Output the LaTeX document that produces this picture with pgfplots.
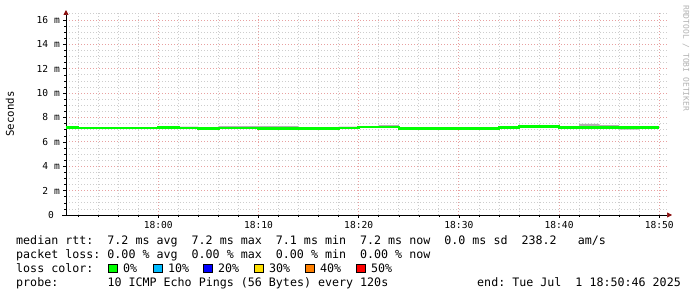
\documentclass[border=0pt]{standalone}
\usepackage{pgfplots}
\pgfplotsset{compat=1.18}
\usepackage{pgfplotstable}
\usepgfplotslibrary{fillbetween}
\usetikzlibrary{arrows.meta}
\usepackage{fontspec}
\setmainfont{DejaVu Sans Mono}
\setmonofont{DejaVu Sans Mono}
\frenchspacing
\definecolor{medgreen}{HTML}{00FF00}
\definecolor{smoke}{HTML}{B0B0B0}
\definecolor{mgrid}{HTML}{E8A0A0}
\definecolor{igrid}{HTML}{CDCDCD}
\definecolor{arrowred}{HTML}{8B1010}
\definecolor{lz}{HTML}{00FF00}
\definecolor{la}{HTML}{00BBFF}
\definecolor{lb}{HTML}{0000FF}
\definecolor{lc}{HTML}{FFE000}
\definecolor{ld}{HTML}{FF7F00}
\definecolor{le}{HTML}{FF0000}

% minutes relative to 18:00, median rtt (ms), smoke low / high (ms)
\pgfplotstableread{
t med lo hi
-10 7.16 7.16 7.16
-8 7.12 7.12 7.12
-6 7.12 7.12 7.12
-4 7.12 7.12 7.12
-2 7.12 7.12 7.12
0 7.16 7.16 7.16
2 7.12 7.12 7.25
4 7.08 7.08 7.08
6 7.12 7.12 7.30
8 7.12 7.12 7.30
10 7.10 7.10 7.30
12 7.10 7.10 7.30
14 7.10 7.10 7.10
16 7.10 7.10 7.10
18 7.14 7.14 7.25
20 7.22 7.22 7.22
22 7.22 7.22 7.38
24 7.10 7.10 7.10
26 7.10 7.10 7.10
28 7.10 7.10 7.10
30 7.10 7.10 7.10
32 7.10 7.10 7.10
34 7.16 7.16 7.16
36 7.24 7.24 7.24
38 7.24 7.24 7.24
40 7.16 7.16 7.16
42 7.16 7.16 7.48
44 7.16 7.16 7.38
46 7.16 7.00 7.16
48 7.16 7.16 7.30
50 7.16 7.16 7.30
}\rtt

\begin{document}
\begin{tikzpicture}
\path (0,0) rectangle (697bp,297bp);
\begin{axis}[
  at={(66bp,82bp)}, anchor=south west,
  scale only axis, width=602bp, height=202bp,
  xmin=-9.21, xmax=50.87, ymin=0, ymax=16.57,
  axis lines=left,
  axis line style={black, line width=0.7bp},
  x axis line style={-{Triangle[length=5bp,width=5bp,color=arrowred]}, shorten >=-4bp, shorten <=-4bp},
  y axis line style={-{Triangle[length=5bp,width=5bp,color=arrowred]}, shorten >=-3bp},
  xtick={0,10,20,30,40,50},
  xticklabels={18:00,18:10,18:20,18:30,18:40,18:50},
  minor xtick={-8,-6,...,50},
  ytick={0,2,...,16},
  yticklabels={0~~,2 m,4 m,6 m,8 m,10 m,12 m,14 m,16 m},
  minor ytick={0.5,1,...,16.5},
  grid=both,
  major grid style={mgrid, line width=0.8bp, dash pattern=on 1bp off 2bp},
  minor grid style={igrid, line width=0.8bp, dash pattern=on 1bp off 2bp},
  tick align=outside,
  major tick length=3bp, minor tick length=2bp,
  tick style={black, line width=0.5bp},
  xticklabel style={inner sep=0pt, yshift=-3bp, font=\fontsize{9.6bp}{10bp}\selectfont},
  yticklabel style={inner sep=0pt, xshift=-3bp, font=\fontsize{9.6bp}{10bp}\selectfont},
  clip=true,
]
\addplot[const plot, draw=none, name path=lo] table[x=t, y=lo] {\rtt};
\addplot[const plot, draw=none, name path=hi] table[x=t, y=hi] {\rtt};
\addplot[smoke, draw=none] fill between[of=hi and lo];
\addplot[const plot, medgreen, line width=2.5bp] table[x=t, y=med] {\rtt};
\end{axis}

\node[rotate=90, font=\fontsize{10.7bp}{11bp}\selectfont] at (10bp,183bp) {Seconds};
\node[rotate=-90, anchor=west, inner sep=0pt, text=black!30, font=\fontsize{8bp}{8bp}\selectfont] at (686bp,292bp) {RRDTOOL / TOBI OETIKER};

\begin{scope}[every node/.style={anchor=base west, inner sep=0pt, font=\fontsize{11.66bp}{14bp}\selectfont}]
\node at (16bp,52.3bp) {median rtt:~~7.2 ms avg~~7.2 ms max~~7.1 ms min~~7.2 ms now~~0.0 ms sd~~238.2~~~am/s};
\node at (16bp,38.3bp) {packet loss: 0.00 \% avg~~0.00 \% max~~0.00 \% min~~0.00 \% now};
\node at (16bp,24.3bp) {loss color:};
\node at (16bp,10.3bp) {probe:};
\node at (107.3bp,10.3bp) {10 ICMP Echo Pings (56 Bytes) every 120s};
\node[anchor=base east] at (681bp,10.3bp) {end: Tue Jul~~1 18:50:46 2025};
\foreach \sx/\col/\lab in {108/lz/0\%, 153/la/10\%, 203/lb/20\%, 254/lc/30\%, 305/ld/40\%, 356/le/50\%}{
  \draw[fill=\col, line width=0.8bp] (\sx bp,24.3bp) rectangle +(9bp,8.5bp);
  \node at (\sx bp+15bp,24.3bp) {\lab};
}
\end{scope}
\end{tikzpicture}
\end{document}
